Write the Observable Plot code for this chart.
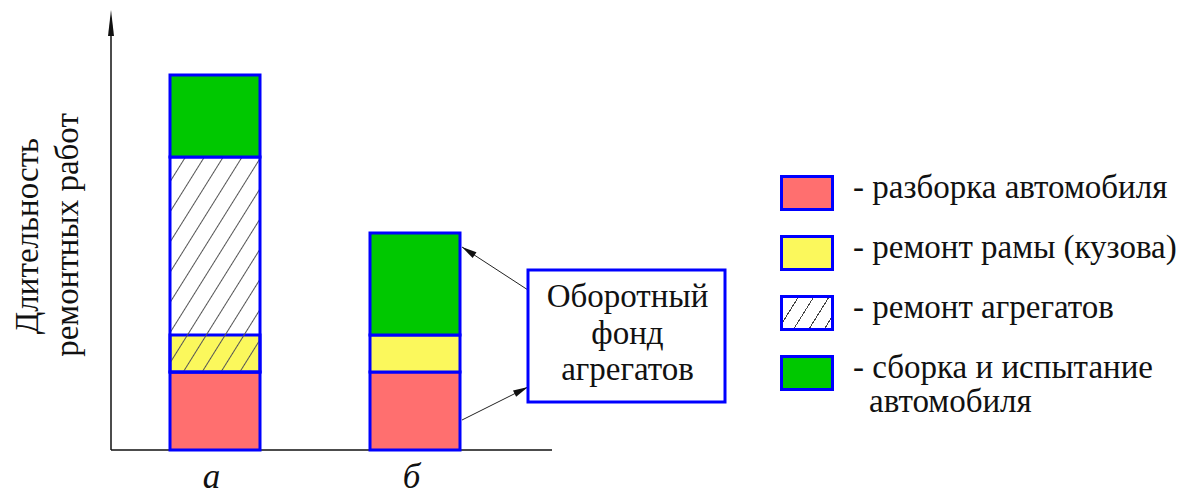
<!DOCTYPE html>
<html>
<head>
<meta charset="utf-8">
<script src="https://cdn.jsdelivr.net/npm/d3@7"></script>
<script src="https://cdn.jsdelivr.net/npm/@observablehq/plot@0.6"></script>
<style>
  body { margin: 0; background: #fff; }
  #wrap { position: relative; width: 1197px; height: 501px; font-family: "Liberation Serif", "Times New Roman", serif; color: #111; }
  #chart { position: absolute; left: 0; top: 0; }
  #legend { position: absolute; left: 780px; top: 175px; }
  .row { display: flex; align-items: flex-start; margin-bottom: 24px; }
  .sw { width: 54px; height: 36px; box-sizing: border-box; border: 3px solid #0000ff; flex: none; }
  .lbl { margin-left: 19px; margin-top: -5px; font-size: 33px; line-height: 34px; padding-left: 16px; text-indent: -16px; white-space: nowrap; }
</style>
</head>
<body>
<div id="wrap">
  <div id="chart"></div>
  <div id="legend"></div>
</div>
<script>
// ---- data ----
const bars = ["а", "б"];
const disassembly = [7.8, 7.8];   // разборка автомобиля
const frameRepair = [3.7, 3.7];   // ремонт рамы (кузова)
const unitRepair = [21.5, 0];     // ремонт агрегатов (parallel with frame repair)
const assembly = [8.2, 10.2];     // сборка и испытание автомобиля
const stageNames = ["- разборка автомобиля", "- ремонт рамы (кузова)", "- ремонт агрегатов", "- сборка и испытание автомобиля"];
const yLabelLines = ["Длительность", "ремонтных работ"];
const noteLines = ["Оборотный", "фонд", "агрегатов"];
const noteTargets = [20.3, 3.0];  // where the arrows touch bar «б»

// ---- styles ----
const stageFills = ["#ff6f6f", "#fbf85c", "url(#hatch)", "#00c800"];
const blue = "#0000ff";

// build stacked segments
const segments = [];
bars.forEach((bar, i) => {
  const t1 = disassembly[i];
  const t2 = t1 + frameRepair[i];
  const t3 = t1 + unitRepair[i];
  const t4 = Math.max(t2, t3);
  segments.push({bar, stage: 0, y1: 0, y2: t1});
  segments.push({bar, stage: 1, y1: t1, y2: t2});
  if (unitRepair[i] > 0) segments.push({bar, stage: 2, y1: t1, y2: t3});
  segments.push({bar, stage: 3, y1: t4, y2: t4 + assembly[i]});
});

function defsMark() {
  const g = d3.create("svg:g");
  const p = g.append("defs").append("pattern")
    .attr("id", "hatch").attr("patternUnits", "userSpaceOnUse")
    .attr("width", 16).attr("height", 16).attr("patternTransform", "rotate(32)");
  p.append("line").attr("x1", 0.5).attr("y1", 0).attr("x2", 0.5).attr("y2", 16)
    .attr("stroke", "#555").attr("stroke-width", 1);
  return g.node();
}

function arrowHead(g, x1, y1, x2, y2, len, half) {
  const a = Math.atan2(y2 - y1, x2 - x1);
  const bx = x2 - len * Math.cos(a), by = y2 - len * Math.sin(a);
  const nx = -Math.sin(a) * half, ny = Math.cos(a) * half;
  g.append("path").attr("d", `M${x2},${y2}L${bx + nx},${by + ny}L${bx - nx},${by - ny}Z`).attr("fill", "#111");
}

function axesMark(index, {x, y}) {
  const g = d3.create("svg:g");
  const ax = 111;
  g.append("line").attr("x1", ax).attr("y1", y(0)).attr("x2", 552).attr("y2", y(0))
    .attr("stroke", "#111").attr("stroke-width", 1.5);
  g.append("line").attr("x1", ax).attr("y1", y(0)).attr("x2", ax).attr("y2", 20)
    .attr("stroke", "#111").attr("stroke-width", 1.5);
  arrowHead(g, ax, 40, ax, 10, 26, 3);
  return g.node();
}

function noteMark(index, {x, y}) {
  const g = d3.create("svg:g");
  const right = x("б") + x.bandwidth() + 2;
  const bx = 528, by = 270, bw = 197, bh = 132;
  // arrows
  const a1 = [bx, 290, right, y(noteTargets[0])];
  g.append("line").attr("x1", a1[0]).attr("y1", a1[1]).attr("x2", a1[2]).attr("y2", a1[3]).attr("stroke", "#222").attr("stroke-width", 1);
  arrowHead(g, ...a1, 15, 3.5);
  const a2 = [right, y(noteTargets[1]), bx, 387];
  g.append("line").attr("x1", a2[0]).attr("y1", a2[1]).attr("x2", a2[2]).attr("y2", a2[3]).attr("stroke", "#222").attr("stroke-width", 1);
  arrowHead(g, ...a2, 15, 3.5);
  g.append("rect").attr("x", bx).attr("y", by).attr("width", bw).attr("height", bh)
    .attr("fill", "#fff").attr("stroke", blue).attr("stroke-width", 3);
  const baselines = [307, 344, 380];
  noteLines.forEach((t, i) => {
    g.append("text").attr("x", bx + bw / 2 + 1).attr("y", baselines[i])
      .attr("text-anchor", "middle").attr("font-family", "Liberation Serif, serif")
      .attr("font-size", 33).attr("fill", "#111").text(t);
  });
  return g.node();
}

const stageMark = (s) => Plot.rectY(segments.filter(d => d.stage === s), {
  x: "bar", y1: "y1", y2: "y2", fill: stageFills[s], stroke: blue, strokeWidth: 3
});

const chart = Plot.plot({
  width: 760, height: 501,
  marginTop: 15, marginBottom: 51, marginLeft: 0, marginRight: 0,
  style: {background: "transparent", fontFamily: "Liberation Serif, serif"},
  x: {domain: bars, range: [170, 460], paddingInner: 0.55, paddingOuter: 0, axis: null},
  y: {domain: [0, 43.5], axis: null},
  marks: [
    defsMark,
    axesMark,
    stageMark(0), stageMark(1), stageMark(2), stageMark(3),
    Plot.text(bars, {x: d => d, frameAnchor: "bottom", dy: 37, dx: -4, fontSize: 35, fontStyle: "italic", fill: "#111"}),
    Plot.text([yLabelLines[0]], {frameAnchor: "left", textAnchor: "middle", dx: 27, dy: 3, rotate: -90, fontSize: 33, fill: "#111"}),
    Plot.text([yLabelLines[1]], {frameAnchor: "left", textAnchor: "middle", dx: 67, dy: 2, rotate: -90, fontSize: 33, fill: "#111"}),
    noteMark
  ]
});
document.getElementById("chart").appendChild(chart);

// legend
const hatchCss = "repeating-linear-gradient(122deg, #fff 0px, #fff 12px, #444 12px, #444 13px)";
const legend = d3.select("#legend");
stageNames.forEach((name, i) => {
  const row = legend.append("div").attr("class", "row");
  const sw = row.append("div").attr("class", "sw");
  if (i === 2) sw.style("background", hatchCss); else sw.style("background", stageFills[i]);
  const lbl = row.append("div").attr("class", "lbl");
  if (i === 3) {
    lbl.html("- сборка и испытание<br>автомобиля");
  } else lbl.text(name);
});
</script>
</body>
</html>
